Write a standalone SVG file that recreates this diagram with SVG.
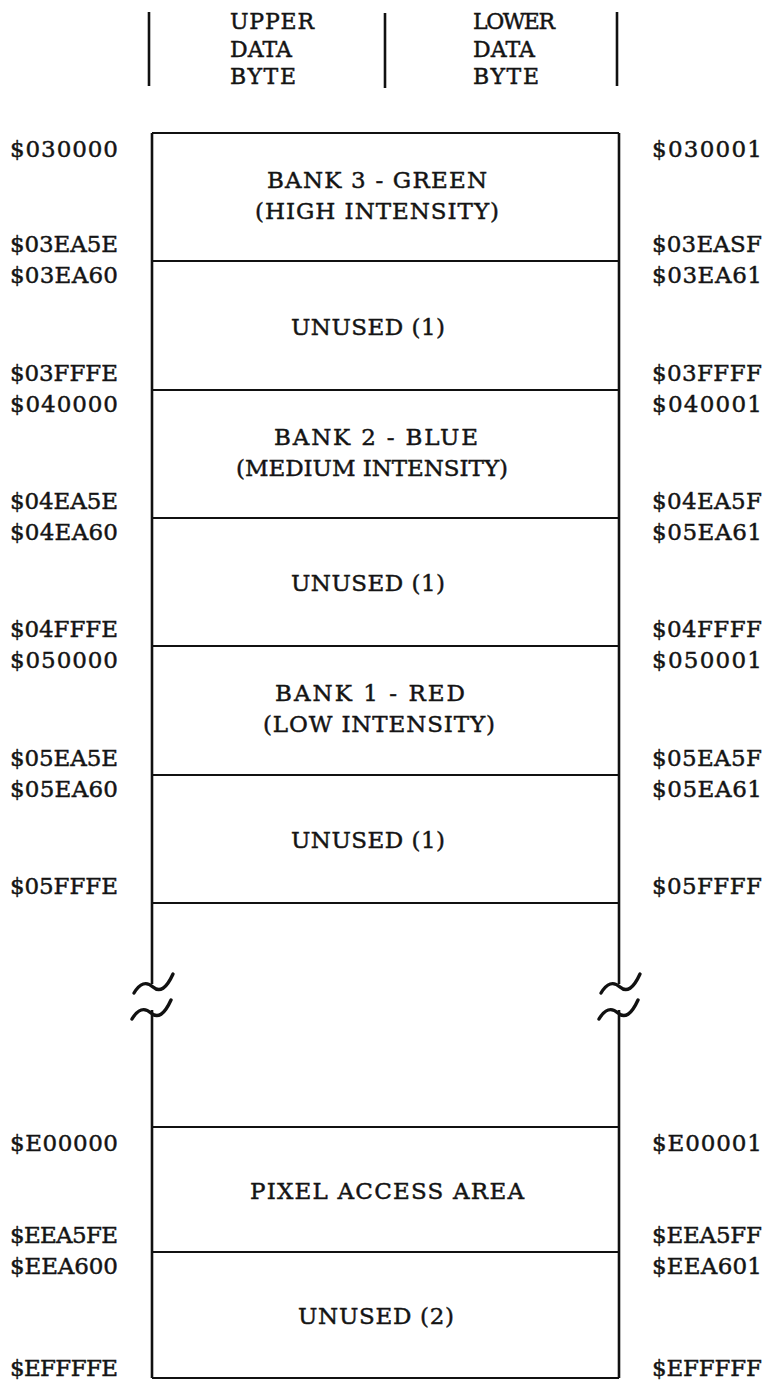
<svg xmlns="http://www.w3.org/2000/svg" width="768" height="1383" viewBox="0 0 768 1383">
<style>
text{font-family:"DejaVu Serif","Liberation Serif",serif;font-size:23px;fill:#141414;stroke:#141414;stroke-width:0.45}
.m{text-anchor:middle}
.hd{font-size:22px}
.v{stroke:#111;stroke-width:2.6;fill:none}
.h{stroke:#111;stroke-width:2;fill:none}
.brk{stroke:#111;stroke-width:3.4;fill:none;stroke-linecap:round}
</style>
<rect width="768" height="1383" fill="#fff"/>
<g id="header">
<line class="v" x1="149" y1="12" x2="149" y2="86"/>
<line class="v" x1="385" y1="13" x2="385" y2="88"/>
<line class="v" x1="617" y1="12" x2="617" y2="86"/>
<text class="hd" x="230" y="29" textLength="84">UPPER</text>
<text class="hd" x="230" y="57" textLength="62">DATA</text>
<text class="hd" x="230" y="84" textLength="66">BYTE</text>
<text class="hd" x="473" y="29" textLength="82">LOWER</text>
<text class="hd" x="473" y="57" textLength="62">DATA</text>
<text class="hd" x="473" y="84" textLength="66">BYTE</text>
</g>
<g id="frame">
<line class="v" x1="152" y1="133" x2="152" y2="984"/>
<line class="v" x1="152" y1="1010" x2="152" y2="1378"/>
<line class="v" x1="619" y1="133" x2="619" y2="984"/>
<line class="v" x1="619" y1="1010" x2="619" y2="1378"/>
<path class="brk" d="M134,993 Q143,978 153,987 T173,974"/>
<path class="brk" d="M132,1019 Q141,1004 151,1013 T171,1000"/>
<path class="brk" d="M601,993 Q610,978 620,987 T640,974"/>
<path class="brk" d="M599,1019 Q608,1004 618,1013 T638,1000"/>
</g>
<g id="bank3"><line class="h" x1="152" y1="133" x2="619" y2="133"/><text class="m" x="377" y="188" textLength="220">BANK 3 - GREEN</text><text class="m" x="377" y="219" textLength="244">(HIGH INTENSITY)</text></g>
<g id="unused1a"><line class="h" x1="152" y1="261" x2="619" y2="261"/><text class="m" x="368" y="335" textLength="154">UNUSED (1)</text></g>
<g id="bank2"><line class="h" x1="152" y1="390" x2="619" y2="390"/><text class="m" x="376" y="445" textLength="204">BANK 2 - BLUE</text><text class="m" x="372" y="476" textLength="272">(MEDIUM INTENSITY)</text></g>
<g id="unused1b"><line class="h" x1="152" y1="518" x2="619" y2="518"/><text class="m" x="368" y="591" textLength="154">UNUSED (1)</text></g>
<g id="bank1"><line class="h" x1="152" y1="646" x2="619" y2="646"/><text class="m" x="370" y="701" textLength="190">BANK 1 - RED</text><text class="m" x="379" y="732" textLength="232">(LOW INTENSITY)</text></g>
<g id="unused1c"><line class="h" x1="152" y1="775" x2="619" y2="775"/><text class="m" x="368" y="848" textLength="154">UNUSED (1)</text></g>
<g id="gap"><line class="h" x1="152" y1="903" x2="619" y2="903"/></g>
<g id="pixel"><line class="h" x1="152" y1="1127" x2="619" y2="1127"/><text class="m" x="387" y="1199" textLength="274">PIXEL ACCESS AREA</text></g>
<g id="unused2"><line class="h" x1="152" y1="1252" x2="619" y2="1252"/><line class="h" x1="152" y1="1378" x2="619" y2="1378"/><text class="m" x="376" y="1324" textLength="156">UNUSED (2)</text></g>
<g id="left-addresses">
<text x="10" y="157" textLength="108">$030000</text>
<text x="10" y="252" textLength="108">$03EA5E</text>
<text x="10" y="283" textLength="108">$03EA60</text>
<text x="10" y="381" textLength="108">$03FFFE</text>
<text x="10" y="412" textLength="108">$040000</text>
<text x="10" y="509" textLength="108">$04EA5E</text>
<text x="10" y="540" textLength="108">$04EA60</text>
<text x="10" y="637" textLength="108">$04FFFE</text>
<text x="10" y="668" textLength="108">$050000</text>
<text x="10" y="766" textLength="108">$05EA5E</text>
<text x="10" y="797" textLength="108">$05EA60</text>
<text x="10" y="894" textLength="108">$05FFFE</text>
<text x="10" y="1151" textLength="108">$E00000</text>
<text x="10" y="1243" textLength="108">$EEA5FE</text>
<text x="10" y="1274" textLength="108">$EEA600</text>
<text x="10" y="1376" textLength="108">$EFFFFE</text>
</g>
<g id="right-addresses">
<text x="652" y="157" textLength="110">$030001</text>
<text x="652" y="252" textLength="110">$03EASF</text>
<text x="652" y="283" textLength="110">$03EA61</text>
<text x="652" y="381" textLength="110">$03FFFF</text>
<text x="652" y="412" textLength="110">$040001</text>
<text x="652" y="509" textLength="110">$04EA5F</text>
<text x="652" y="540" textLength="110">$05EA61</text>
<text x="652" y="637" textLength="110">$04FFFF</text>
<text x="652" y="668" textLength="110">$050001</text>
<text x="652" y="766" textLength="110">$05EA5F</text>
<text x="652" y="797" textLength="110">$05EA61</text>
<text x="652" y="894" textLength="110">$05FFFF</text>
<text x="652" y="1151" textLength="110">$E00001</text>
<text x="652" y="1243" textLength="110">$EEA5FF</text>
<text x="652" y="1274" textLength="110">$EEA601</text>
<text x="652" y="1376" textLength="110">$EFFFFF</text>
</g>
</svg>
